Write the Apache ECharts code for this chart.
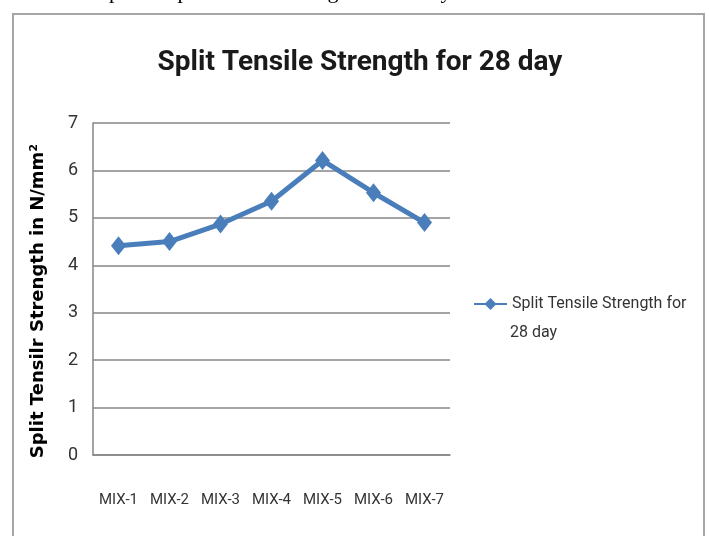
<!DOCTYPE html>
<html>
<head>
<meta charset="utf-8">
<script src="https://cdn.jsdelivr.net/npm/echarts@6/dist/echarts.min.js"></script>
<style>
  html, body { margin: 0; padding: 0; background: #fff; }
  #chart { width: 709px; height: 536px; }
</style>
</head>
<body>
<div id="chart"></div>
<script>
// data
var mixes = ['MIX-1', 'MIX-2', 'MIX-3', 'MIX-4', 'MIX-5', 'MIX-6', 'MIX-7'];
var strength28 = [4.41, 4.5, 4.87, 5.35, 6.21, 5.53, 4.9];
var seriesName = 'Split Tensile Strength for 28 day';

var labelFont = 'Roboto, "Open Sans", sans-serif';

var myChart = echarts.init(document.getElementById('chart'));
myChart.setOption({
  backgroundColor: '#fff',
  animation: false,
  graphic: [
    {
      // cut-off caption above the chart box
      type: 'text',
      left: 76,
      top: -19,
      style: {
        text: 'Graph Of Split Tensile Strength for 28 day',
        font: '22px "Liberation Serif", serif',
        fill: '#000'
      }
    },
    {
      type: 'rect',
      shape: { x: 13, y: 14, width: 691, height: 540 },
      style: { fill: 'none', stroke: '#a6a6a6', lineWidth: 2 }
    },
    {
      // second line of the legend label
      type: 'text',
      left: 510,
      top: 325,
      style: {
        text: '28 day',
        font: '16px Roboto, "Open Sans", sans-serif',
        fill: '#333'
      }
    }
  ],
  title: {
    text: 'Split Tensile Strength for 28 day',
    left: 355,
    textAlign: 'center',
    top: 44,
    textStyle: {
      fontFamily: labelFont,
      fontWeight: 'bold',
      fontSize: 28,
      color: '#1a1a1a'
    }
  },
  legend: {
    data: [seriesName],
    left: 473,
    top: 296,
    padding: 0,
    itemWidth: 33,
    itemHeight: 15,
    formatter: function () { return 'Split Tensile Strength for'; },
    textStyle: {
      fontFamily: labelFont,
      fontSize: 16,
      color: '#333'
    }
  },
  grid: {
    left: 93,
    right: 259,
    top: 123,
    bottom: 81
  },
  xAxis: {
    type: 'category',
    data: mixes,
    axisLine: { lineStyle: { color: '#868686', width: 1.5 } },
    axisTick: { show: false },
    axisLabel: {
      interval: 0,
      margin: 38,
      fontFamily: labelFont,
      fontSize: 15,
      color: '#333'
    }
  },
  yAxis: {
    type: 'value',
    min: 0,
    max: 7,
    interval: 1,
    name: 'Split Tensilr Strength in N/mm²',
    nameLocation: 'middle',
    nameGap: 46,
    nameTextStyle: {
      fontFamily: '"DejaVu Sans", sans-serif',
      fontWeight: 'bold',
      fontSize: 18,
      color: '#000',
      padding: [0, 0, 0, -24]
    },
    axisLine: { show: true, lineStyle: { color: '#868686', width: 1.5 } },
    axisTick: { show: false },
    splitLine: { lineStyle: { color: '#868686', width: 1.5 } },
    axisLabel: {
      margin: 15,
      fontFamily: labelFont,
      fontSize: 18,
      color: '#333'
    }
  },
  series: [{
    name: seriesName,
    type: 'line',
    data: strength28,
    symbol: 'diamond',
    symbolSize: [15, 19],
    lineStyle: { color: '#4a7ebb', width: 5 },
    itemStyle: { color: '#4a7ebb' }
  }]
});
window.addEventListener('resize', function () {
  myChart.resize();
});
</script>
</body>
</html>
